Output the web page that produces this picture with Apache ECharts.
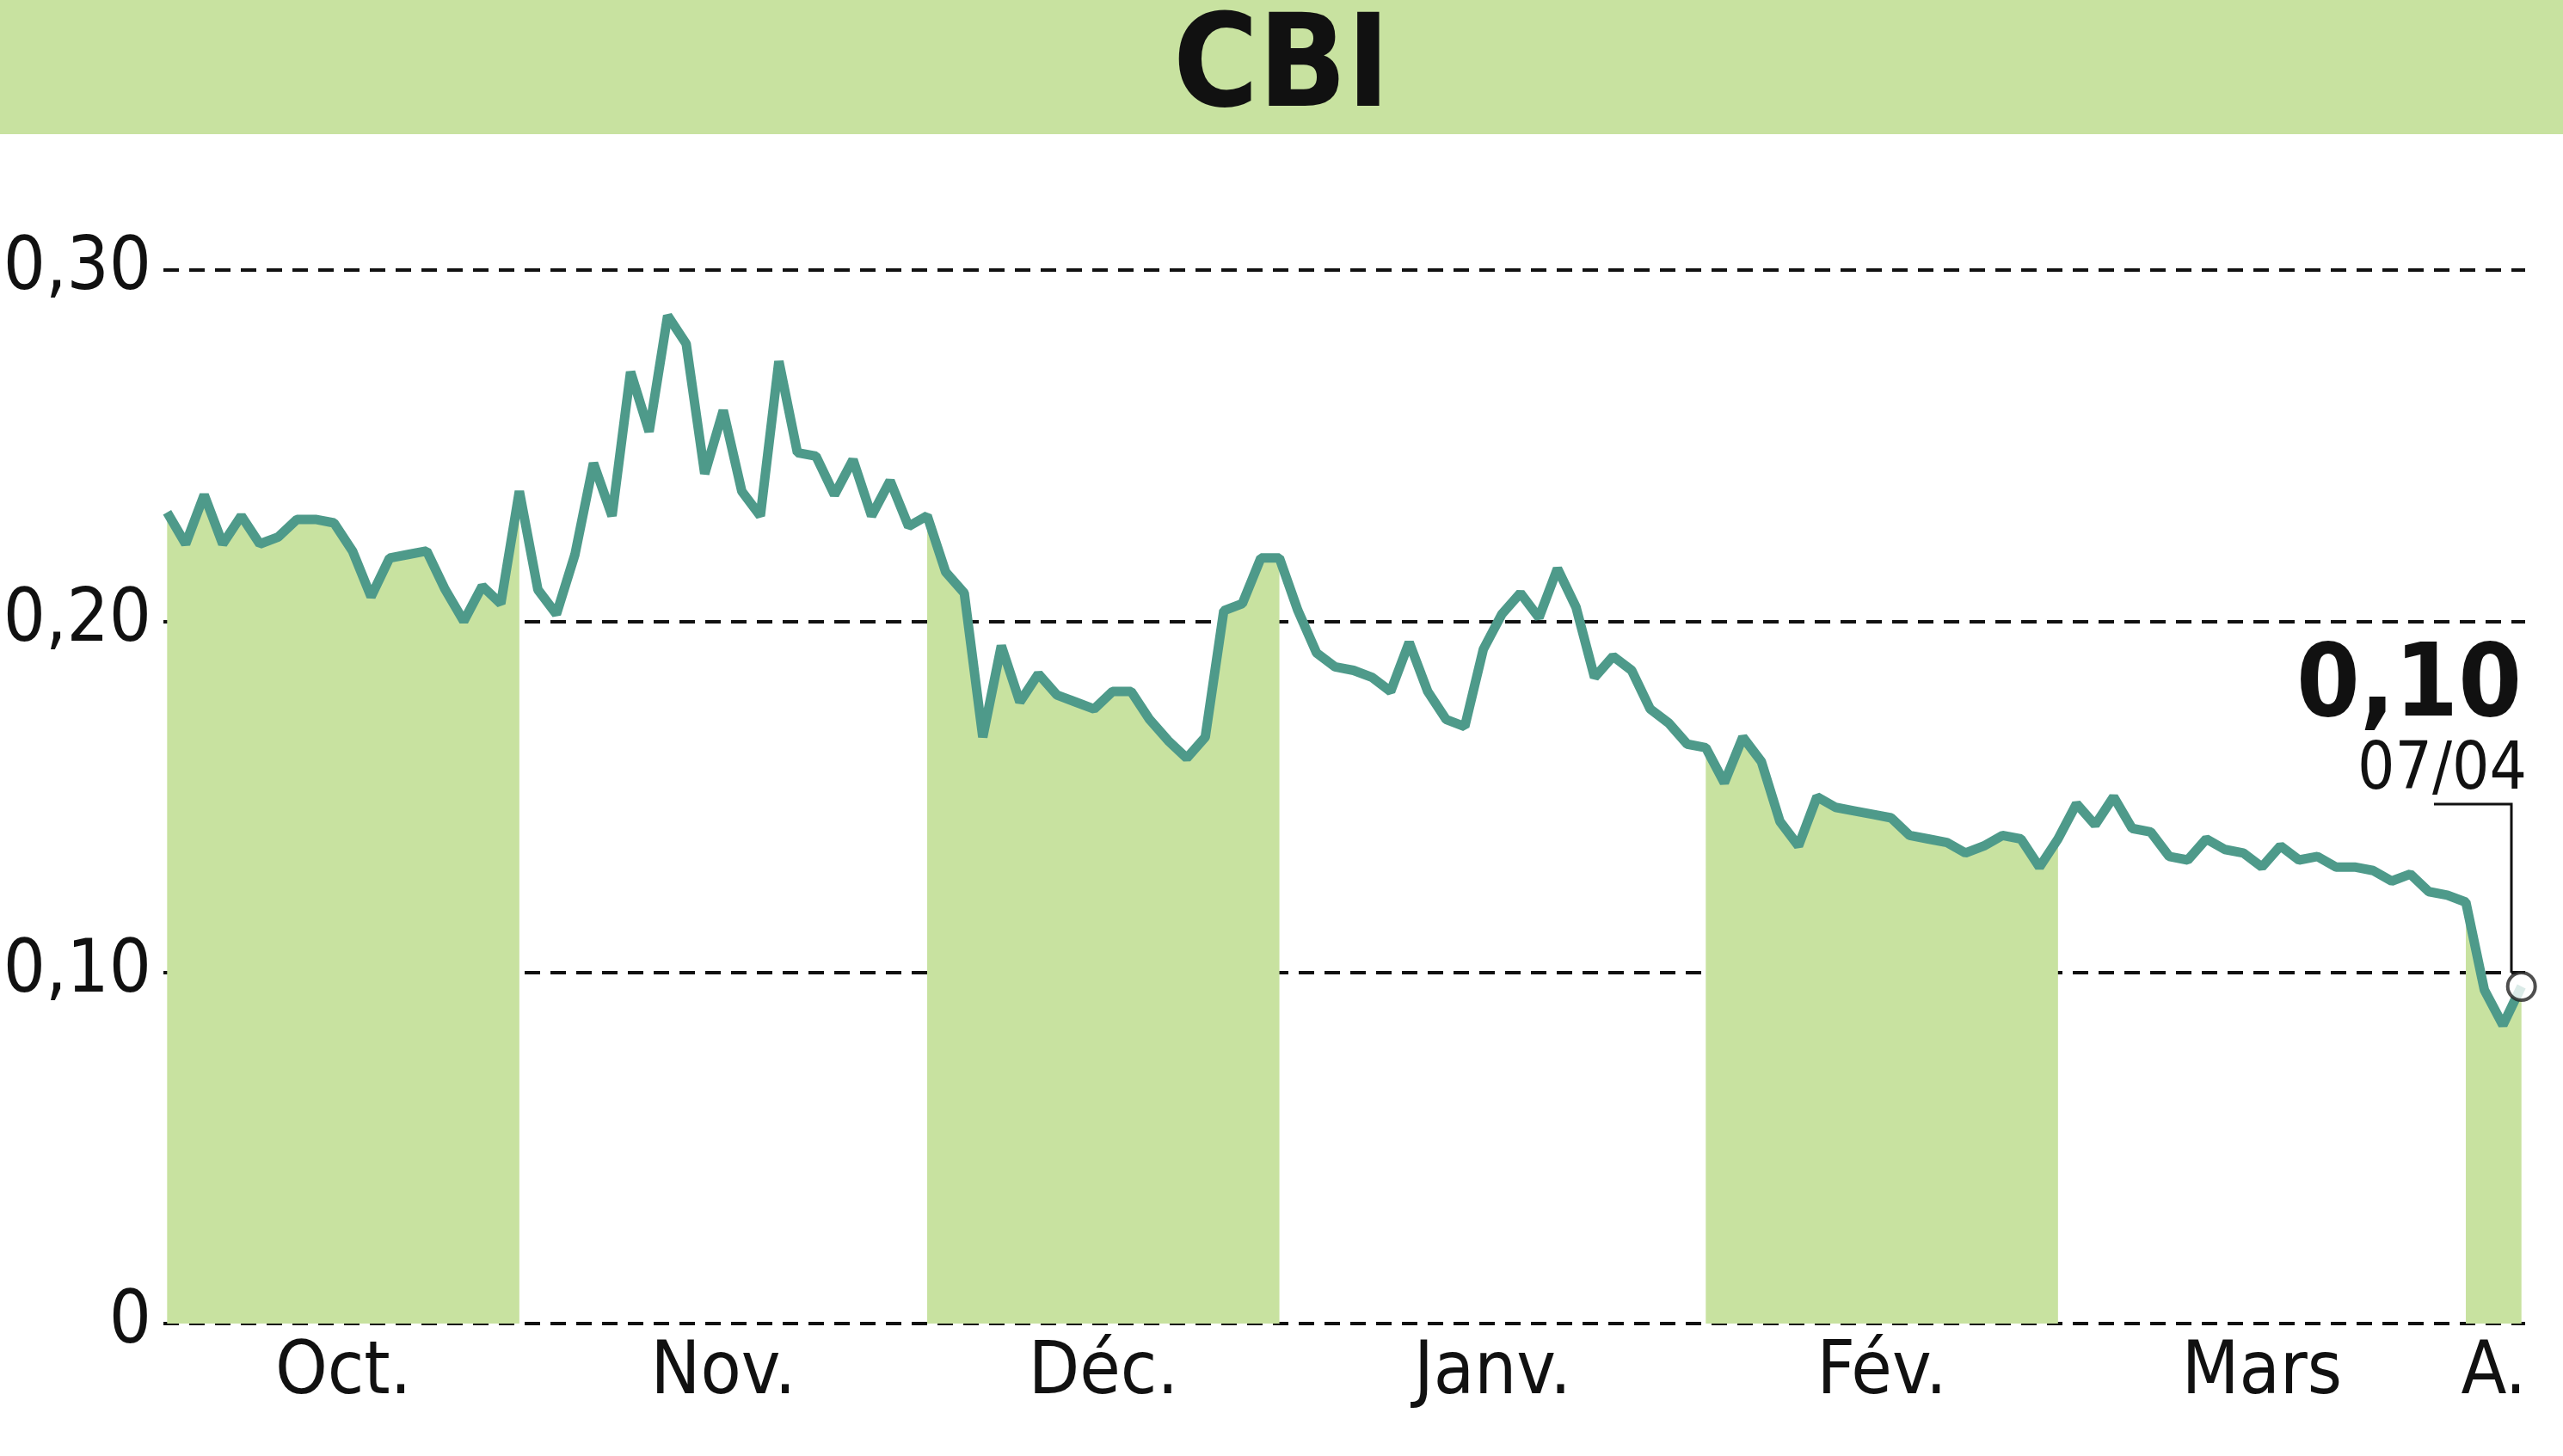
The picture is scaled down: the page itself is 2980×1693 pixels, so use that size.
<!DOCTYPE html><html><head><meta charset="utf-8">
<script src="https://cdn.jsdelivr.net/npm/echarts@6/dist/echarts.min.js"></script>
<style>html,body{margin:0;padding:0;background:#fff}#c{width:2980px;height:1693px}</style></head><body><div id="c"></div>
<script>
const oct=[.231,.222,.236,.222,.230,.222,.224,.229,.229,.228,.220,.207,.218,.219,.220,.209,.200,.210,.205,.237];
const nov=[.209,.202,.219,.245,.230,.271,.254,.287,.279,.242,.260,.237,.230,.274,.248,.247,.236,.246,.230,.240,.227];
const dec=[.230,.214,.208,.167,.193,.177,.185,.179,.177,.175,.180,.180,.172,.166,.161,.167,.203,.205,.218,.218];
const jan=[.203,.191,.187,.186,.184,.180,.194,.180,.172,.170,.192,.202,.208,.201,.215,.204,.184,.190,.186,.175,.171,.165];
const feb=[.164,.154,.167,.160,.143,.136,.150,.147,.146,.145,.144,.139,.138,.137,.134,.136,.139,.138,.130,.138];
const mar=[.148,.142,.150,.141,.140,.133,.132,.138,.135,.134,.130,.136,.132,.133,.130,.130,.129,.126,.128,.123,.122];
const apr=[.120,.095,.085,.096];
const months=[["Oct.",oct],["Nov.",nov],["Déc.",dec],["Janv.",jan],["Fév.",feb],["Mars",mar],["A.",apr]];
const shaded=[0,2,4,6];
const lastLabel="0,10", lastDate="07/04";
let all=[],ranges=[];
months.forEach(([n,a])=>{const s=all.length;a.forEach(v=>all.push(v));ranges.push([s,all.length-1]);});
const data=all.map((v,i)=>[i,v]);
const centers=ranges.map(r=>(r[0]+r[1])/2);
const nameAt={};centers.forEach((c,i)=>nameAt[c]=months[i][0]);
const F='"Liberation Sans Narrow","DejaVu Sans Condensed",sans-serif';
const areaSeries=shaded.map(mi=>({type:'line',data:data.slice(ranges[mi][0],ranges[mi][1]+1),symbol:'none',lineStyle:{width:0},areaStyle:{color:'#c8e2a0',opacity:1},z:1,silent:true}));
const chart=echarts.init(document.getElementById('c'));
const base=[{type:'rect',shape:{x:0,y:0,width:2980,height:156},style:{fill:'#c8e2a0'}},
 {type:'text',x:1490,y:84,style:{text:'CBI',fontFamily:F,fontWeight:'bold',fontSize:150,fill:'#111',align:'center',verticalAlign:'middle'}}];
chart.setOption({animation:false,
grid:{left:190,right:44,top:314,bottom:154},
xAxis:{type:'value',min:-0.2,max:all.length-1+0.2,splitLine:{show:false},axisTick:{show:false},axisLine:{show:false},
 axisLabel:{customValues:centers,formatter:v=>nameAt[v]||'',fontFamily:F,fontSize:86,color:'#111',margin:16}},
yAxis:{type:'value',min:0,max:0.3,interval:0.1,axisLine:{show:false},axisTick:{show:false},
 axisLabel:{formatter:v=>v===0?'0':v.toFixed(2).replace('.',','),fontFamily:F,fontSize:86,color:'#111',margin:14},
 splitLine:{lineStyle:{color:'#111',type:[18,12],width:4}}},
series:[...areaSeries,{type:'line',data:data,symbol:'none',lineStyle:{color:'#4e9a8a',width:11},z:3},
 {type:'scatter',data:[data[data.length-1]],symbol:'circle',symbolSize:32,itemStyle:{color:'#fff',borderColor:'#222',borderWidth:4},z:5}],
graphic:base});
const p=chart.convertToPixel({gridIndex:0},data[data.length-1]);
chart.setOption({graphic:[...base,
 {type:'text',x:2932,y:860,style:{text:lastLabel,fontFamily:F,fontWeight:'bold',fontSize:118,fill:'#111',align:'right',verticalAlign:'bottom'}},
 {type:'text',x:2938,y:935,style:{text:lastDate,fontFamily:F,fontSize:76,fill:'#111',align:'right',verticalAlign:'bottom'}},
 {type:'polyline',shape:{points:[[2830,935],[2920,935],[2920,p[1]-16]]},style:{stroke:'#111',lineWidth:3,fill:null},z:10}
]});
</script></body></html>
